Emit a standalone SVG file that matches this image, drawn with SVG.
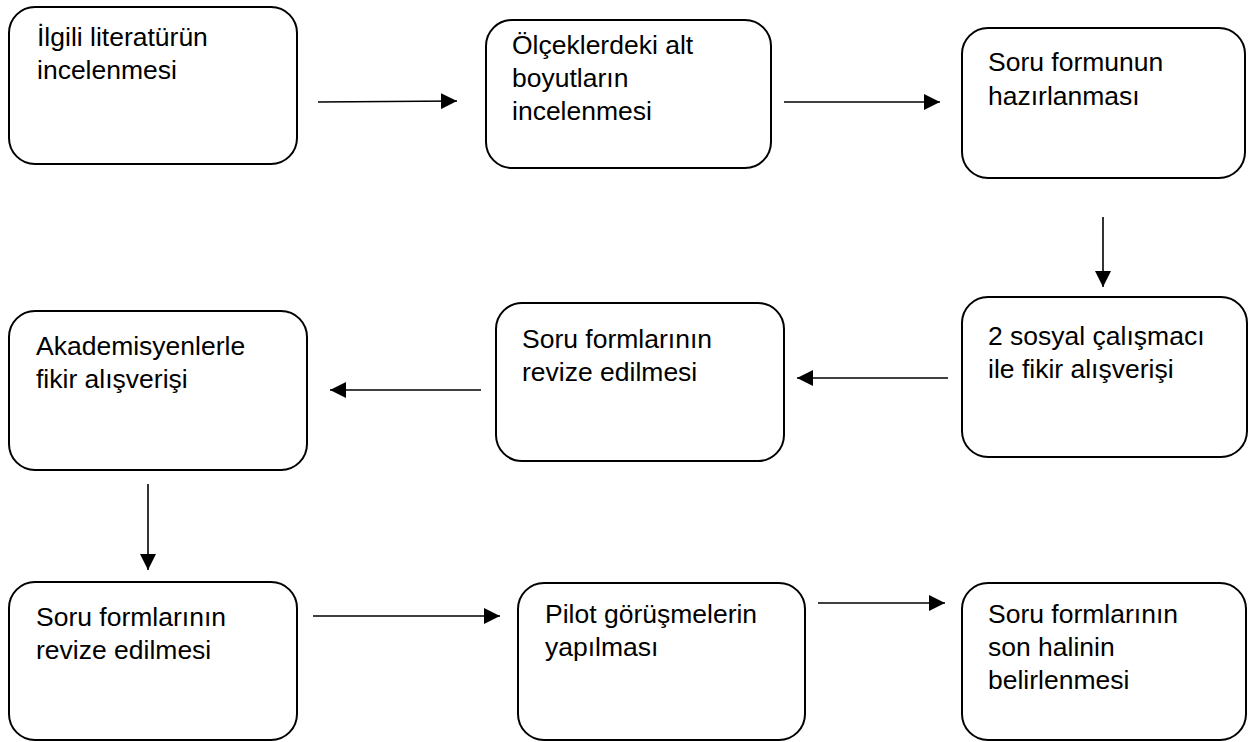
<svg xmlns="http://www.w3.org/2000/svg" width="1249" height="742" viewBox="0 0 1249 742">
<style>
.box{fill:#fff;stroke:#000;stroke-width:2}
.t{font-family:"Liberation Sans",Arial,sans-serif;font-size:26.5px;fill:#000}
.c{stroke:#000;stroke-width:1.6;fill:none;marker-end:url(#ah)}
</style>
<defs>
<marker id="ah" markerUnits="userSpaceOnUse" markerWidth="18" markerHeight="16" refX="16" refY="8" orient="auto">
<path d="M0,0 L16,8 L0,16 Z" fill="#000"/>
</marker>
</defs>
<rect width="1249" height="742" fill="#fff"/>
<g id="connectors">
<line class="c" x1="318" y1="102" x2="457" y2="101"/>
<line class="c" x1="784" y1="102" x2="940" y2="102"/>
<line class="c" x1="1103" y1="217" x2="1103" y2="287"/>
<line class="c" x1="948" y1="378" x2="797" y2="378"/>
<line class="c" x1="481" y1="390" x2="330" y2="390"/>
<line class="c" x1="148" y1="484" x2="148" y2="570"/>
<line class="c" x1="313" y1="616" x2="500" y2="616"/>
<line class="c" x1="818" y1="603" x2="945" y2="603"/>
</g>
<g id="n1"><rect class="box" x="9" y="7" width="288" height="157" rx="26"/>
<text class="t" x="37" y="46">İlgili literatürün</text><text class="t" x="37" y="79">incelenmesi</text></g>
<g id="n2"><rect class="box" x="486" y="20" width="285" height="148" rx="26"/>
<text class="t" x="512" y="54">Ölçeklerdeki alt</text><text class="t" x="512" y="87">boyutların</text><text class="t" x="512" y="120">incelenmesi</text></g>
<g id="n3"><rect class="box" x="962" y="28" width="283" height="150" rx="26"/>
<text class="t" x="988" y="71">Soru formunun</text><text class="t" x="988" y="105">hazırlanması</text></g>
<g id="n4"><rect class="box" x="962" y="297" width="285" height="160" rx="26"/>
<text class="t" x="988" y="345">2 sosyal çalışmacı</text><text class="t" x="988" y="378">ile fikir alışverişi</text></g>
<g id="n5"><rect class="box" x="496" y="303" width="288" height="158" rx="26"/>
<text class="t" x="522" y="348">Soru formlarının</text><text class="t" x="522" y="381">revize edilmesi</text></g>
<g id="n6"><rect class="box" x="9" y="311" width="298" height="159" rx="26"/>
<text class="t" x="36" y="355">Akademisyenlerle</text><text class="t" x="36" y="388">fikir alışverişi</text></g>
<g id="n7"><rect class="box" x="9" y="582" width="288" height="158" rx="26"/>
<text class="t" x="36" y="626">Soru formlarının</text><text class="t" x="36" y="659">revize edilmesi</text></g>
<g id="n8"><rect class="box" x="518" y="583" width="287" height="157" rx="26"/>
<text class="t" x="545" y="623">Pilot görüşmelerin</text><text class="t" x="545" y="656">yapılması</text></g>
<g id="n9"><rect class="box" x="962" y="583" width="284" height="157" rx="26"/>
<text class="t" x="988" y="623">Soru formlarının</text><text class="t" x="988" y="656">son halinin</text><text class="t" x="988" y="689">belirlenmesi</text></g>
</svg>
